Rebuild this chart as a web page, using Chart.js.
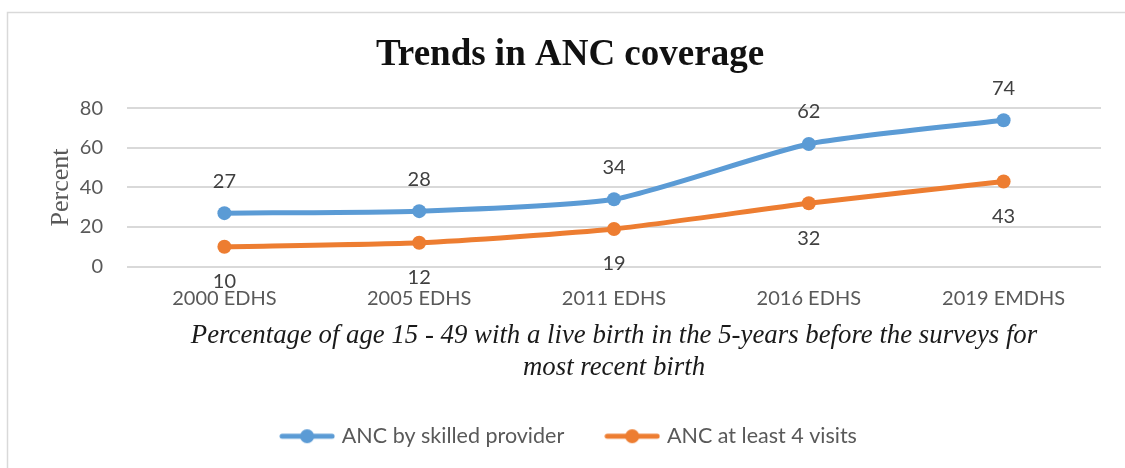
<!DOCTYPE html>
<html>
<head>
<meta charset="utf-8">
<title>Trends in ANC coverage</title>
<script src="https://cdn.jsdelivr.net/npm/chart.js@4.4.1/dist/chart.umd.min.js"></script>
<style>
  html, body { margin: 0; padding: 0; background: #fff; }
  canvas { display: block; }
</style>
</head>
<body>
<canvas id="ancChart" width="1125" height="468"></canvas>
<script>
// survey rounds on the x axis
const surveys = ["2000 EDHS", "2005 EDHS", "2011 EDHS", "2016 EDHS", "2019 EMDHS"];
// percent of women with ANC, per survey
const skilledProvider = [27, 28, 34, 62, 74];
const atLeastFourVisits = [10, 12, 19, 32, 43];
const seriesNames = ["ANC by skilled provider", "ANC at least 4 visits"];
const yTicks = [0, 20, 40, 60, 80];

const BLUE = "#5b9bd5";
const ORANGE = "#ed7d31";
const GREY_TEXT = "#595959";

// legend swatch: short line with a dot in the middle
function lineSwatch(color) {
  const c = document.createElement("canvas");
  c.width = 56;
  c.height = 18;
  const g = c.getContext("2d");
  g.strokeStyle = color;
  g.lineWidth = 5;
  g.lineCap = "round";
  g.beginPath();
  g.moveTo(3, 9);
  g.lineTo(53, 9);
  g.stroke();
  g.fillStyle = color;
  g.beginPath();
  g.arc(28, 9, 7, 0, Math.PI * 2);
  g.fill();
  return c;
}

// white background + thin frame around the chart
const frame = {
  id: "frame",
  beforeDraw(chart) {
    const { ctx, width, height } = chart;
    ctx.save();
    ctx.fillStyle = "#fff";
    ctx.fillRect(0, 0, width, height);
    ctx.strokeStyle = "#d9d9d9";
    ctx.lineWidth = 1.5;
    ctx.strokeRect(7.5, 12.5, width + 20, height + 20);
    ctx.restore();
  },
};

// value labels: above the blue line, below the orange one
const valueLabels = {
  id: "valueLabels",
  afterDatasetsDraw(chart) {
    const ctx = chart.ctx;
    ctx.save();
    ctx.font = "20px Lato";
    ctx.fillStyle = "#404040";
    ctx.textAlign = "center";
    ctx.textBaseline = "middle";
    chart.data.datasets.forEach((ds, i) => {
      const meta = chart.getDatasetMeta(i);
      const dy = i === 0 ? -32 : 35;
      meta.data.forEach((pt, j) => {
        ctx.fillText(String(ds.data[j]), pt.x, pt.y + dy);
      });
    });
    ctx.restore();
  },
};

const makeSeries = (label, data, color) => ({
  label,
  data,
  borderColor: color,
  backgroundColor: color,
  borderWidth: 5,
  tension: 0.2,
  pointStyle: "circle",
  pointRadius: 7,
  pointHoverRadius: 7,
  pointBorderWidth: 0,
});

new Chart(document.getElementById("ancChart"), {
  type: "line",
  data: {
    labels: surveys,
    datasets: [
      makeSeries(seriesNames[0], skilledProvider, BLUE),
      makeSeries(seriesNames[1], atLeastFourVisits, ORANGE),
    ],
  },
  options: {
    responsive: false,
    animation: false,
    layout: { padding: { left: 39, right: 24, top: 12, bottom: 11 } },
    plugins: {
      tooltip: { enabled: false },
      title: {
        display: true,
        text: "Trends in ANC coverage",
        color: "#111",
        font: { family: "Liberation Serif", size: 37, weight: "bold" },
        padding: { top: 21, bottom: 31 },
      },
      legend: {
        position: "bottom",
        labels: {
          usePointStyle: true,
          pointStyleWidth: 48,
          padding: 44,
          color: GREY_TEXT,
          font: { family: "Lato", size: 21.5 },
          generateLabels(chart) {
            return chart.data.datasets.map((ds, i) => ({
              text: ds.label,
              fontColor: GREY_TEXT,
              pointStyle: lineSwatch(ds.borderColor),
              lineWidth: 0,
              strokeStyle: ds.borderColor,
              fillStyle: ds.borderColor,
              datasetIndex: i,
              hidden: false,
            }));
          },
        },
      },
    },
    scales: {
      x: {
        offset: true,
        grid: { display: false },
        border: { display: false },
        ticks: {
          color: GREY_TEXT,
          padding: 12,
          font: { family: "Lato", size: 20 },
        },
        title: {
          display: true,
          text: [
            "Percentage of age 15 - 49 with a live birth in the 5-years before the surveys for",
            "most recent birth",
          ],
          color: "#1a1a1a",
          font: { family: "Liberation Serif", size: 26.8, style: "italic", lineHeight: 1.194 },
          padding: { top: 0, bottom: -2 },
        },
        afterFit(scale) {
          scale.height = 115;
        },
      },
      y: {
        min: 0,
        max: 80,
        grid: { color: "#d9d9d9", lineWidth: 2, drawTicks: false },
        border: { display: false },
        afterBuildTicks(scale) {
          scale.ticks = yTicks.map((v) => ({ value: v }));
        },
        ticks: {
          color: GREY_TEXT,
          padding: 24,
          font: { family: "Lato", size: 20 },
        },
        title: {
          display: true,
          text: "Percent",
          color: GREY_TEXT,
          font: { family: "Liberation Serif", size: 26 },
          padding: { top: 7, bottom: 0 },
        },
        afterFit(scale) {
          scale.width = 88;
        },
      },
    },
  },
  plugins: [frame, valueLabels],
});
</script>
</body>
</html>
